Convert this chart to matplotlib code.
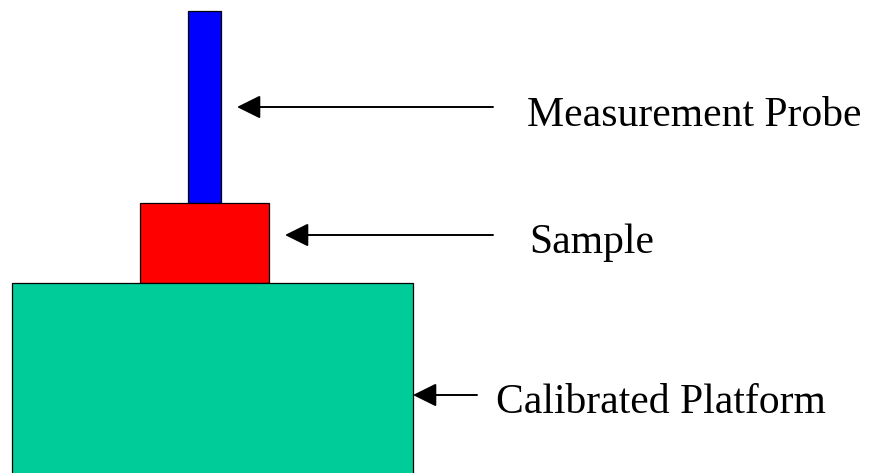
import matplotlib.pyplot as plt

# Blocks of the setup (pixel units, y measured downward)
block_names = ['Probe', 'Sample', 'Platform']
block_left = [188, 140, 12]
block_width = [33, 129, 401]
block_top = [11, 203, 283]
block_height = [192, 80, 200]
block_colors = ['#0000FF', '#FF0000', '#00CC99']

# Callout labels with their arrows
labels = ['Measurement Probe', 'Sample', 'Calibrated Platform']
arrow_tip_x = [237, 285, 413]
arrow_tail_x = [493, 493, 477]
arrow_y = [107, 235, 395]
label_x = [527, 529, 496]
label_baseline = [126, 253, 413]

fig = plt.figure(figsize=(8.74, 4.73), dpi=100)
ax = fig.add_axes([0, 0, 1, 1])
ax.set_xlim(0, 874)
ax.set_ylim(473, 0)
ax.axis('off')

ax.bar(block_left, block_height, width=block_width, bottom=block_top,
       align='edge', color=block_colors, edgecolor='black', linewidth=0.9)

for i in range(len(labels)):
    ax.annotate('', xy=(arrow_tip_x[i], arrow_y[i]), xytext=(arrow_tail_x[i], arrow_y[i]),
                arrowprops=dict(arrowstyle='-|>,head_length=1.45,head_width=0.72',
                                mutation_scale=10, color='black', lw=1.4,
                                shrinkA=0, shrinkB=0))
    ax.text(label_x[i], label_baseline[i], labels[i], fontsize=30,
            family=['Liberation Serif', 'DejaVu Serif'], va='baseline', ha='left')

fig.savefig('out.png', dpi=100)
